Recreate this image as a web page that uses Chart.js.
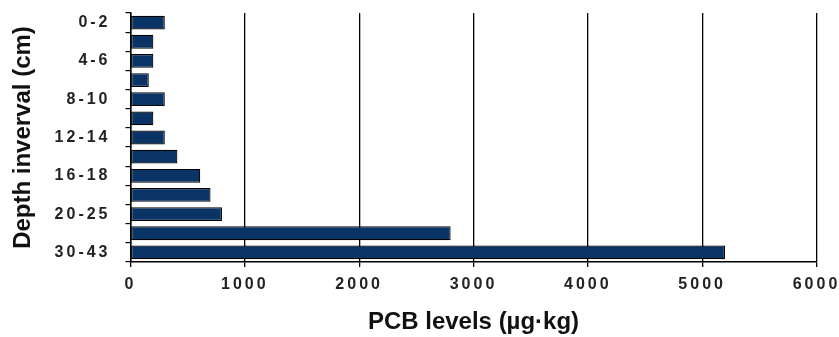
<!DOCTYPE html>
<html>
<head>
<meta charset="utf-8">
<script src="https://cdn.jsdelivr.net/npm/chart.js@4/dist/chart.umd.min.js"></script>
<style>
  html, body { margin: 0; padding: 0; background: #fff; }
  #wrap { width: 839px; height: 337px; }
</style>
</head>
<body>
<div id="wrap"><canvas id="chart" width="839" height="337"></canvas></div>
<script>
// Sediment core depth intervals (cm), top of core first
const depthIntervals = ['0-2', '2-4', '4-6', '6-8', '8-10', '10-12', '12-14',
                        '14-16', '16-18', '18-20', '20-25', '25-30', '30-43'];
// PCB concentration per interval
const pcbLevels = [300, 200, 200, 160, 300, 200, 300, 410, 610, 700, 800, 2800, 5200];
// Value axis ticks
const valueTicks = [0, 1000, 2000, 3000, 4000, 5000, 6000];

const tickFont = {
  family: '"Liberation Sans", Arial, Helvetica, sans-serif',
  size: 16,
  weight: 'bold'
};
const titleFamily = '"Liberation Sans", Arial, Helvetica, sans-serif';

// Tick labels are drawn after the bars (ticks.z = 1); widen their letter spacing
const spacedTicks = {
  id: 'spacedTicks',
  afterDatasetsDraw(chart) { chart.ctx.letterSpacing = '3px'; },
  afterDraw(chart) { chart.ctx.letterSpacing = '0px'; }
};

new Chart(document.getElementById('chart'), {
  type: 'bar',
  data: {
    labels: depthIntervals,
    datasets: [{
      data: pcbLevels,
      backgroundColor: '#0a3466',
      borderColor: '#000000',
      borderWidth: 1.2,
      borderSkipped: false,
      barPercentage: 0.72,
      categoryPercentage: 1.0
    }]
  },
  options: {
    indexAxis: 'y',
    responsive: false,
    animation: false,
    devicePixelRatio: 1,
    layout: { padding: { top: 13, right: 22.5, bottom: 0, left: 0 } },
    plugins: {
      legend: { display: false },
      tooltip: { enabled: false }
    },
    scales: {
      x: {
        type: 'linear',
        min: valueTicks[0],
        max: valueTicks[valueTicks.length - 1],
        afterBuildTicks(scale) { scale.ticks = valueTicks.map(v => ({ value: v })); },
        afterFit(scale) {
          scale.height = 75;
          scale.paddingLeft = 0;
          scale.paddingRight = 0;
        },
        grid: {
          color: '#000000',
          lineWidth: 1.3,
          drawTicks: true,
          tickLength: 5,
          tickColor: '#000000'
        },
        border: { display: true, color: '#000000', width: 1.5 },
        ticks: {
          z: 1,
          color: '#222222',
          font: tickFont,
          padding: 8,
          maxRotation: 0,
          autoSkip: false,
          callback: v => String(v)
        },
        title: {
          display: true,
          text: 'PCB levels (µg·kg)',
          color: '#111111',
          font: { family: titleFamily, size: 24, weight: 'bold' },
          padding: { top: 0, bottom: 0 }
        }
      },
      y: {
        type: 'category',
        afterFit(scale) {
          scale.width = 130.5;
          scale.paddingTop = 0;
          scale.paddingBottom = 0;
        },
        grid: {
          offset: true,
          drawOnChartArea: false,
          drawTicks: true,
          tickLength: 5,
          color: '#000000',
          tickColor: '#000000',
          lineWidth: 1.2
        },
        border: { display: true, color: '#000000', width: 1.5 },
        ticks: {
          z: 1,
          color: '#222222',
          font: tickFont,
          padding: 15,
          autoSkip: false,
          callback: (v, i) => (i % 2 === 0 ? depthIntervals[i] : '')
        },
        title: {
          display: true,
          text: 'Depth inverval (cm)',
          color: '#111111',
          font: { family: titleFamily, size: 24, weight: 'bold' },
          padding: { top: 9, bottom: 0 }
        }
      }
    }
  },
  plugins: [spacedTicks]
});
</script>
</body>
</html>
